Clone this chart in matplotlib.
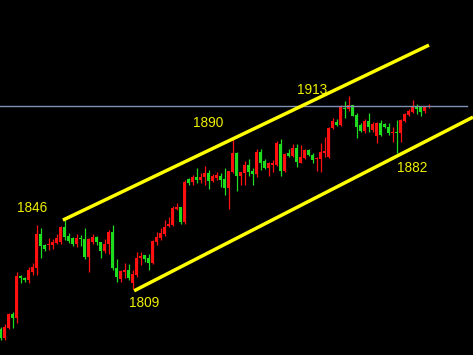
import matplotlib
matplotlib.use('Agg')
import matplotlib.pyplot as plt

# Daily candles (red = up, green = down)
opens = [1787.4, 1782.5, 1787.9, 1795.5, 1793.3, 1816.0, 1814.9, 1813.8, 1818.1, 1820.3,
         1838.6, 1832.6, 1832.6, 1832.6, 1833.7, 1834.3, 1842.4, 1837.5, 1836.4, 1833.2,
         1836.4, 1835.9, 1826.2, 1834.3, 1837.0, 1834.3, 1829.4, 1833.2, 1839.7, 1820.3,
         1814.3, 1818.1, 1819.2, 1812.2, 1816.5, 1825.7, 1827.3, 1825.7, 1823.0, 1834.3,
         1836.4, 1838.6, 1842.9, 1843.4, 1852.0, 1853.1, 1845.1, 1868.2, 1866.6, 1869.3,
         1867.7, 1869.3, 1871.4, 1867.1, 1868.8, 1869.8, 1868.2, 1863.4, 1872.0, 1882.3,
         1869.8, 1871.4, 1875.8, 1872.5, 1870.9, 1882.8, 1878.0, 1874.2, 1875.8, 1875.8,
         1887.1, 1872.5, 1882.3, 1880.7, 1885.0, 1876.9, 1879.6, 1883.9, 1881.2, 1879.0,
         1879.0, 1882.3, 1880.1, 1895.7, 1899.0, 1897.3, 1906.5, 1906.0, 1908.1, 1902.7,
         1897.3, 1894.1, 1899.5, 1894.6, 1891.4, 1898.4, 1897.9, 1896.3, 1893.0, 1893.6,
         1893.0, 1899.5, 1902.7, 1904.3, 1907.6, 1907.0, 1904.9, 1907.0]
highs = [1788.5, 1790.1, 1796.0, 1796.5, 1818.1, 1816.5, 1815.4, 1820.8, 1823.0, 1843.4,
         1841.8, 1833.2, 1836.4, 1835.9, 1838.6, 1842.9, 1846.0, 1839.1, 1837.0, 1838.6,
         1838.1, 1841.8, 1836.4, 1838.6, 1837.5, 1834.3, 1835.9, 1840.7, 1843.4, 1825.1,
         1819.2, 1823.0, 1822.4, 1819.2, 1828.9, 1828.9, 1827.3, 1827.8, 1835.3, 1839.7,
         1841.8, 1846.1, 1847.7, 1853.7, 1855.3, 1853.1, 1867.7, 1868.8, 1870.4, 1874.2,
         1871.4, 1875.2, 1873.1, 1870.9, 1872.0, 1871.4, 1874.2, 1872.5, 1890.0, 1882.8,
         1872.0, 1878.0, 1879.0, 1874.2, 1884.4, 1884.4, 1879.0, 1877.4, 1878.5, 1888.7,
         1889.8, 1882.3, 1884.4, 1887.1, 1887.1, 1886.6, 1884.4, 1884.4, 1882.3, 1880.1,
         1887.6, 1890.9, 1896.3, 1901.1, 1900.6, 1908.1, 1910.3, 1913.0, 1908.1, 1903.8,
         1898.4, 1900.6, 1903.8, 1899.0, 1899.0, 1900.0, 1898.4, 1898.4, 1896.3, 1900.0,
         1900.6, 1903.8, 1906.0, 1910.8, 1908.6, 1907.6, 1907.6, 1908.6]
lows = [1781.4, 1781.4, 1787.4, 1787.9, 1790.6, 1812.2, 1812.7, 1812.2, 1816.5, 1816.5,
        1825.7, 1829.4, 1830.0, 1830.5, 1833.2, 1833.2, 1835.3, 1833.7, 1832.1, 1831.6,
        1832.1, 1825.1, 1818.1, 1833.2, 1832.6, 1825.7, 1828.4, 1827.8, 1819.2, 1812.7,
        1812.7, 1814.9, 1813.8, 1809.0, 1815.4, 1821.9, 1823.5, 1819.2, 1822.4, 1832.6,
        1835.3, 1837.5, 1842.4, 1842.9, 1851.5, 1844.0, 1844.0, 1865.0, 1865.0, 1866.1,
        1866.1, 1865.0, 1862.8, 1866.6, 1867.7, 1863.9, 1859.6, 1852.0, 1871.4, 1861.8,
        1865.0, 1865.0, 1869.8, 1865.0, 1869.3, 1873.1, 1873.6, 1869.8, 1872.0, 1875.2,
        1869.8, 1872.0, 1880.1, 1880.1, 1874.7, 1876.9, 1879.0, 1880.7, 1876.9, 1872.5,
        1872.0, 1880.1, 1879.6, 1895.2, 1896.8, 1896.8, 1901.1, 1904.9, 1902.0, 1890.3,
        1893.6, 1893.0, 1893.6, 1893.6, 1887.6, 1891.4, 1895.7, 1891.9, 1888.2, 1882.0,
        1888.2, 1899.0, 1902.2, 1903.8, 1903.3, 1902.2, 1903.8, 1906.5]
closes = [1782.5, 1788.5, 1795.5, 1793.3, 1816.0, 1814.9, 1813.8, 1819.2, 1820.8, 1838.6,
          1832.1, 1830.5, 1833.2, 1834.3, 1836.4, 1842.4, 1837.0, 1834.8, 1833.2, 1836.4,
          1835.9, 1826.2, 1835.9, 1837.0, 1834.3, 1829.4, 1833.2, 1839.7, 1820.3, 1815.4,
          1818.6, 1819.2, 1814.9, 1817.0, 1825.7, 1826.7, 1825.1, 1823.0, 1834.8, 1837.0,
          1839.1, 1842.4, 1844.0, 1852.6, 1853.1, 1845.1, 1866.6, 1866.1, 1869.3, 1867.7,
          1869.3, 1871.4, 1867.1, 1869.8, 1870.4, 1867.7, 1863.4, 1872.5, 1882.3, 1869.8,
          1872.0, 1875.8, 1872.0, 1870.9, 1882.8, 1876.9, 1874.2, 1876.9, 1876.9, 1887.6,
          1872.5, 1881.7, 1880.7, 1885.0, 1877.4, 1880.1, 1883.9, 1881.2, 1878.5, 1879.6,
          1882.8, 1883.3, 1895.7, 1899.5, 1897.3, 1907.0, 1906.0, 1908.1, 1902.2, 1896.3,
          1894.1, 1899.5, 1896.3, 1897.9, 1898.4, 1891.9, 1896.3, 1893.0, 1893.6, 1893.0,
          1900.0, 1903.3, 1904.9, 1907.6, 1906.0, 1904.3, 1907.0, 1907.6]

# Channel lines: (bar index, price) at both ends
upper_channel = [(15.6, 1846.1), (107.1, 1940.4)]
lower_channel = [(33.4, 1808.0), (118.1, 1901.6)]
resistance = 1907.6

# Labelled turning points: (text, bar index, price)
labels = [('1846', 7.9, 1852.5), ('1890', 52.0, 1898.3), ('1913', 78.0, 1916.0),
          ('1809', 36.0, 1801.5), ('1882', 103.0, 1874.3)]

UP_COLOR = '#ff1010'
DOWN_COLOR = '#1edc1e'
YELLOW = '#ffff00'

fig = plt.figure(figsize=(4.73, 3.55), dpi=100)
ax = fig.add_axes([0, 0, 1, 1])
ax.set_facecolor('black')
fig.patch.set_facecolor('black')
ax.axis('off')

for i in range(len(opens)):
    o, h, l, c = opens[i], highs[i], lows[i], closes[i]
    color = UP_COLOR if c >= o else DOWN_COLOR
    ax.vlines(i, l, h, color=color, linewidth=0.9)
    body = max(abs(c - o), 0.6)
    ax.bar(i, body, bottom=min(o, c), width=0.8, color=color, linewidth=0)

ax.axhline(resistance, xmin=0, xmax=0.987, color='#8090b0', linewidth=1)

for line in [upper_channel, lower_channel]:
    xs = [p[0] for p in line]
    ys = [p[1] for p in line]
    ax.plot(xs, ys, color=YELLOW, linewidth=2.5, solid_capstyle='butt')

for text, x, y in labels:
    ax.text(x, y, text, color='#f0f000', fontsize=9.8, family='Liberation Sans',
            ha='center', va='center')

ax.set_xlim(-0.125, 118.1)
ax.set_ylim(1773.4, 1964.7)

fig.savefig('out.png', dpi=100, facecolor='black')
